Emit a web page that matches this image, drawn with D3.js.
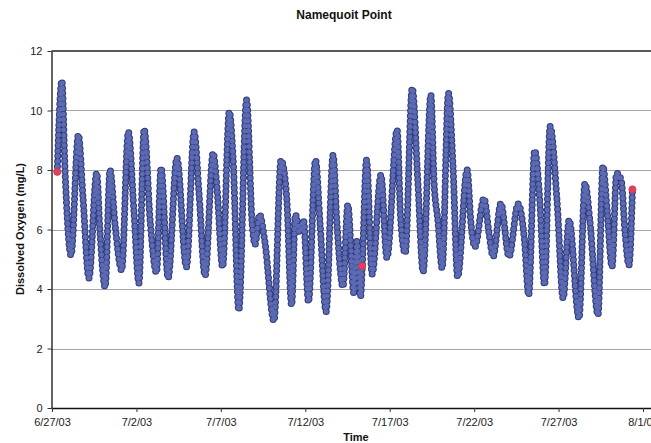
<!DOCTYPE html>
<html>
<head>
<meta charset="utf-8">
<script src="https://cdn.jsdelivr.net/npm/d3@7"></script>
<style>
  body { margin: 0; background: #fff; }
  svg { display: block; font-family: Arial, "Liberation Sans", sans-serif; }
</style>
</head>
<body>
<svg id="chart" width="651" height="443"></svg>
<script>
// Dissolved oxygen logger record, Namequoit Point, summer 2003
const readingTimes = [
  "2003-06-27 07:30","2003-06-27 14:00","2003-06-27 18:30","2003-06-28 03:00","2003-06-28 13:30",
  "2003-06-28 20:00","2003-06-29 04:30","2003-06-29 15:30","2003-06-29 20:00","2003-06-30 03:30",
  "2003-06-30 10:30","2003-06-30 17:30","2003-07-01 03:00","2003-07-01 12:30","2003-07-01 20:30",
  "2003-07-02 03:30","2003-07-02 11:00","2003-07-02 19:30","2003-07-03 04:30","2003-07-03 11:00",
  "2003-07-03 21:00","2003-07-04 09:30","2003-07-04 23:00","2003-07-05 10:00","2003-07-05 17:00",
  "2003-07-06 01:30","2003-07-06 13:00","2003-07-06 18:30","2003-07-07 02:30","2003-07-07 12:00",
  "2003-07-07 17:30","2003-07-08 01:30","2003-07-08 12:30","2003-07-08 20:30","2003-07-09 00:30",
  "2003-07-09 07:00","2003-07-09 14:30","2003-07-10 03:30","2003-07-10 13:30","2003-07-10 21:30",
  "2003-07-11 04:30","2003-07-11 10:00","2003-07-11 16:00","2003-07-11 21:30","2003-07-12 04:30",
  "2003-07-12 14:30","2003-07-12 21:00","2003-07-13 05:30","2003-07-13 15:30","2003-07-13 21:00",
  "2003-07-14 05:30","2003-07-14 12:30","2003-07-14 21:00","2003-07-15 01:30","2003-07-15 06:30",
  "2003-07-15 09:00","2003-07-15 15:00","2003-07-15 23:00","2003-07-16 11:30","2003-07-16 20:00",
  "2003-07-17 10:30","2003-07-17 15:30","2003-07-17 22:00","2003-07-18 08:00","2003-07-18 16:00",
  "2003-07-18 23:30","2003-07-19 10:30","2003-07-19 15:00","2003-07-19 20:30","2003-07-20 02:30",
  "2003-07-20 11:30","2003-07-20 18:00","2003-07-21 00:30","2003-07-21 14:00","2003-07-21 19:30",
  "2003-07-22 01:00","2003-07-22 14:00","2003-07-22 21:00","2003-07-23 03:00","2003-07-23 14:00",
  "2003-07-24 01:30","2003-07-24 14:30","2003-07-24 23:30","2003-07-25 05:30","2003-07-25 14:00",
  "2003-07-25 21:30","2003-07-26 04:00","2003-07-26 12:00","2003-07-26 22:00","2003-07-27 06:30",
  "2003-07-27 15:00","2003-07-28 05:00","2003-07-28 13:30","2003-07-28 20:30","2003-07-29 08:00",
  "2003-07-29 15:00","2003-07-29 21:00","2003-07-30 04:00","2003-07-30 10:30","2003-07-30 17:00",
  "2003-07-30 22:30","2003-07-31 04:00","2003-07-31 09:00"
];
const doValues = [
  7.94, 11.0, 8.0, 5.14, 9.18,
  7.1, 4.37, 7.9, 6.0, 4.07,
  8.0, 6.2, 4.64, 9.28, 6.6,
  4.2, 9.37, 6.3, 4.55, 8.07,
  4.37, 8.4, 4.74, 9.28, 7.2,
  4.45, 8.57, 7.4, 4.74, 9.96,
  8.33, 3.29, 10.35, 6.2, 5.5,
  6.5, 5.6, 2.93, 8.33, 7.1,
  3.46, 6.5, 5.9, 6.3, 3.57,
  8.33, 6.2, 3.24, 8.5, 6.2,
  4.08, 6.82, 3.87, 5.6, 3.74,
  4.77, 8.33, 4.5, 7.83, 5.05,
  9.34, 6.4, 5.2, 10.75, 7.6,
  4.58, 10.52, 7.6, 6.3, 4.7,
  10.58, 8.1, 4.41, 8.0, 6.2,
  5.42, 7.05, 5.9, 5.09, 6.88,
  5.09, 6.86, 5.65, 3.8, 8.65,
  6.9, 4.13, 9.46, 6.89, 3.69,
  6.32, 3.02, 7.55, 6.3, 3.13,
  8.13, 6.65, 4.75, 7.89, 7.66,
  5.9, 4.8, 7.35
];

// Highlighted check readings (start, mid-record, end)
const checkTimes = ["2003-06-27 07:30", "2003-07-15 09:00", "2003-07-31 09:00"];
const checkValues = [7.94, 4.77, 7.35];

const dateTicks = ["2003-06-27","2003-07-02","2003-07-07","2003-07-12","2003-07-17","2003-07-22","2003-07-27","2003-08-01"];
const yTicks = [0, 2, 4, 6, 8, 10, 12];

const parseTime = d3.timeParse("%Y-%m-%d %H:%M");
const parseDay = d3.timeParse("%Y-%m-%d");

const readings = readingTimes.map((t, i) => ({ t: parseTime(t), v: doValues[i] }));
const checks = checkTimes.map((t, i) => ({ t: parseTime(t), v: checkValues[i] }));

const svg = d3.select("#chart");
const plotLeft = 51.5, plotTop = 51, plotBottom = 408, plotRight = 700;

const x = d3.scaleTime()
  .domain([parseDay("2003-06-27"), parseDay("2003-08-01")])
  .range([52, 643]);
const y = d3.scaleLinear().domain([0, 12]).range([plotBottom, plotTop]);

// Title
svg.append("text")
  .attr("x", 344).attr("y", 19)
  .attr("text-anchor", "middle")
  .attr("font-size", 12).attr("font-weight", "bold")
  .attr("fill", "#111")
  .text("Namequoit Point");

// Horizontal gridlines
svg.append("g")
  .selectAll("line")
  .data(yTicks.filter(d => d > 0 && d < 12))
  .join("line")
  .attr("x1", plotLeft).attr("x2", plotRight)
  .attr("y1", d => Math.round(y(d)) + 0.5).attr("y2", d => Math.round(y(d)) + 0.5)
  .attr("stroke", "#a6a6a6").attr("stroke-width", 1);

// Plot area top border
svg.append("line")
  .attr("x1", plotLeft).attr("x2", plotRight)
  .attr("y1", plotTop).attr("y2", plotTop)
  .attr("stroke", "#222").attr("stroke-width", 1.4);

// Series: connecting line, then beads along it
const line = d3.line()
  .x(d => x(d.t))
  .y(d => y(d.v))
  .curve(d3.curveMonotoneX);

const series = svg.append("g");
series.append("path")
  .attr("d", line(readings))
  .attr("fill", "none")
  .attr("stroke", "#8a94c8").attr("stroke-width", 1);
series.append("path")
  .attr("d", line(readings))
  .attr("fill", "none")
  .attr("stroke", "#2f3a7a").attr("stroke-width", 7)
  .attr("stroke-linecap", "round")
  .attr("stroke-dasharray", "0 5.2");
series.append("path")
  .attr("d", line(readings))
  .attr("fill", "none")
  .attr("stroke", "#5b6ab3").attr("stroke-width", 5)
  .attr("stroke-linecap", "round")
  .attr("stroke-dasharray", "0 5.2");

// Check readings
svg.append("g")
  .selectAll("circle")
  .data(checks)
  .join("circle")
  .attr("cx", d => x(d.t)).attr("cy", d => y(d.v))
  .attr("r", 3.6)
  .attr("fill", "#e5405a").attr("stroke", "#d23048").attr("stroke-width", 0.6);

// Axes
const yAxis = svg.append("g")
  .attr("transform", `translate(${plotLeft},0)`)
  .call(d3.axisLeft(y).tickValues(yTicks).tickFormat(d3.format("d"))
    .tickSize(4).tickSizeOuter(0).tickPadding(5));
yAxis.select(".domain").attr("stroke", "#111").attr("stroke-width", 1.3);
yAxis.selectAll(".tick line").attr("stroke", "#333");
yAxis.selectAll("text").attr("font-size", 11).attr("fill", "#222")
  .attr("font-family", "Arial, 'Liberation Sans', sans-serif");

const xAxis = svg.append("g")
  .attr("transform", `translate(0,${plotBottom})`)
  .call(d3.axisBottom(x).tickValues(dateTicks.map(parseDay))
    .tickFormat(d3.timeFormat("%-m/%-d/%y"))
    .tickSize(4).tickSizeOuter(0).tickPadding(6));
xAxis.select(".domain")
  .attr("d", `M${plotLeft},0.5H${plotRight}`)
  .attr("stroke", "#111").attr("stroke-width", 1.3);
xAxis.selectAll(".tick line").attr("stroke", "#333");
xAxis.selectAll("text").attr("font-size", 11).attr("fill", "#222")
  .attr("font-family", "Arial, 'Liberation Sans', sans-serif");

// Axis titles
svg.append("text")
  .attr("transform", "translate(24,229) rotate(-90)")
  .attr("text-anchor", "middle")
  .attr("font-size", 11).attr("font-weight", "bold").attr("fill", "#111")
  .text("Dissolved Oxygen (mg/L)");
svg.append("text")
  .attr("x", 356).attr("y", 441)
  .attr("text-anchor", "middle")
  .attr("font-size", 11).attr("font-weight", "bold").attr("fill", "#111")
  .text("Time");
</script>
</body>
</html>
